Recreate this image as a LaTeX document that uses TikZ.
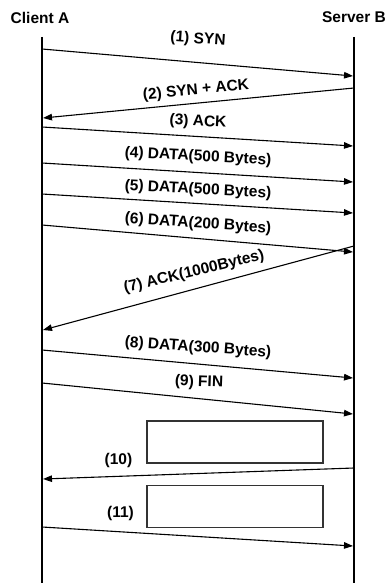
\documentclass[tikz,border=0pt]{standalone}
\usepackage{fontspec}
\setmainfont{Liberation Sans}
\usetikzlibrary{arrows.meta}
\begin{document}
\begin{tikzpicture}[x=1pt,y=-1pt,
  life/.style={line width=2pt,black},
  msg/.style={line width=1.1pt,black,-{Triangle[length=9pt,width=6.5pt]}},
  lbl/.style={font=\fontsize{15.5}{18}\selectfont\bfseries,inner sep=0pt},
  hdr/.style={font=\fontsize{15.5}{18}\selectfont\bfseries,inner sep=0pt},
  gbox/.style={draw=black!80,line width=1.2pt,fill=white}]
\useasboundingbox (0,0) rectangle (387,583);
% headers
\node[hdr] (ca) at (40,17.5) {Client A};
\node[hdr] (sb) at (354,17.5) {Server B};
% lifelines
\coordinate (at) at (42,37); \coordinate (ab) at (42,583);
\coordinate (bt) at (354,37); \coordinate (bb) at (354,583);
\draw[life] (at) -- (ab);
\draw[life] (bt) -- (bb);
% endpoints
\coordinate (a1) at (42,49);   \coordinate (b1) at (353,76);
\coordinate (b2) at (354,88);  \coordinate (a2) at (43,118);
\coordinate (a3) at (42,127);  \coordinate (b3) at (353,146);
\coordinate (a4) at (42,163);  \coordinate (b4) at (353,182);
\coordinate (a5) at (42,194);  \coordinate (b5) at (353,213);
\coordinate (a6) at (42,225);  \coordinate (b6) at (353,252);
\coordinate (b7) at (354,246); \coordinate (a7) at (43,330);
\coordinate (a8) at (42,350);  \coordinate (b8) at (353,378);
\coordinate (a9) at (42,383);  \coordinate (b9) at (353,414);
\coordinate (b10) at (354,468);\coordinate (a10) at (43,479);
\coordinate (a11) at (42,527); \coordinate (b11) at (353,546);
% boxes
\node[gbox,minimum width=176pt,minimum height=42pt,inner sep=0pt] (box1) at (235,442) {};
\node[gbox,minimum width=176pt,minimum height=42.5pt,inner sep=0pt] (box2) at (235,506.5) {};
% messages
\draw[msg] (a1) -- (b1);
\draw[msg] (b2) -- (a2);
\draw[msg] (a3) -- (b3);
\draw[msg] (a4) -- (b4);
\draw[msg] (a5) -- (b5);
\draw[msg] (a6) -- (b6);
\draw[msg] (b7) -- (a7);
\draw[msg] (a8) -- (b8);
\draw[msg] (a9) -- (b9);
\draw[msg] (b10) -- (a10);
\draw[msg] (a11) -- (b11);
% labels
\node[lbl,rotate=-4] (l1) at (198,39.5) {(1) SYN};
\node[lbl,rotate=5.5] (l2) at (196,90.5) {(2) SYN + ACK};
\node[lbl,rotate=-3] (l3) at (198,122) {(3) ACK};
\node[lbl,rotate=-3] (l4) at (198,157) {(4) DATA(500 Bytes)};
\node[lbl,rotate=-3] (l5) at (198,190) {(5) DATA(500 Bytes)};
\node[lbl,rotate=-4] (l6) at (198,224) {(6) DATA(200 Bytes)};
\node[lbl,rotate=13.5] (l7) at (194,272) {(7) ACK(1000Bytes)};
\node[lbl,rotate=-4] (l8) at (198,348) {(8) DATA(300 Bytes)};
\node[lbl,rotate=-2] (l9) at (199,382.5) {(9) FIN};
\node[lbl] (l10) at (118.5,460.5) {(10)};
\node[lbl] (l11) at (120.5,513) {(11)};
\end{tikzpicture}
\end{document}
